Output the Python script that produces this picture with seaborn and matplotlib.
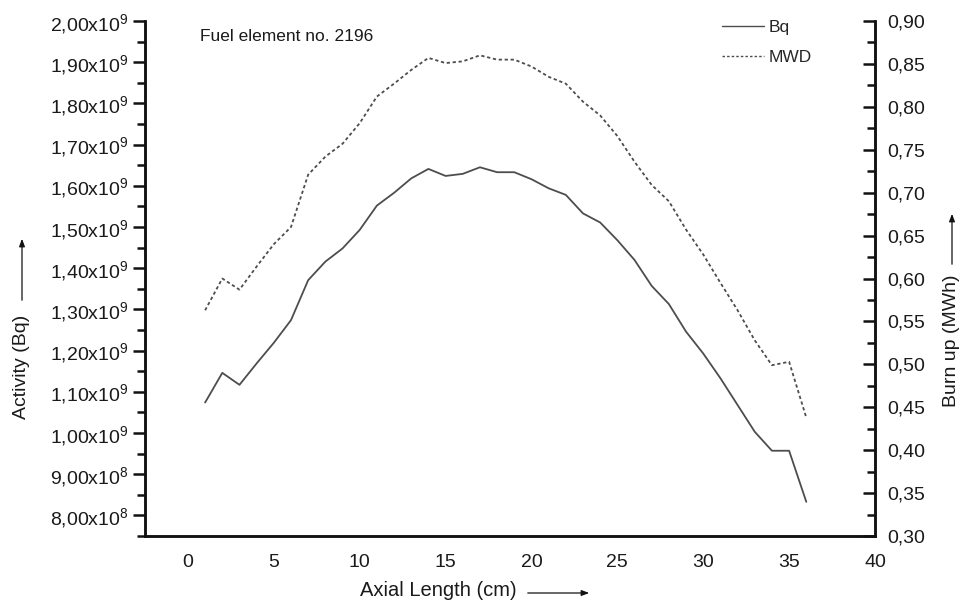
import numpy as np
import pandas as pd
import matplotlib
matplotlib.use("Agg")
import matplotlib.pyplot as plt
from matplotlib.ticker import MultipleLocator, FuncFormatter
from matplotlib.lines import Line2D
import seaborn as sns

# Axial profile of fuel element no. 2196
axial_cm = list(range(1, 37))
activity_bq = [1.074, 1.146, 1.117, 1.169, 1.219, 1.274, 1.371, 1.416, 1.448, 1.493,
               1.552, 1.583, 1.618, 1.641, 1.624, 1.629, 1.645, 1.633, 1.633, 1.616,
               1.594, 1.578, 1.533, 1.511, 1.468, 1.420, 1.357, 1.313, 1.246, 1.193,
               1.133, 1.068, 1.003, 0.957, 0.957, 0.833]          # x 1e9 Bq
burnup_mwh = [0.563, 0.600, 0.587, 0.614, 0.640, 0.660, 0.721, 0.742, 0.757, 0.781,
              0.812, 0.827, 0.843, 0.857, 0.851, 0.853, 0.860, 0.855, 0.855, 0.847,
              0.835, 0.827, 0.806, 0.790, 0.766, 0.736, 0.709, 0.690, 0.657, 0.628,
              0.595, 0.563, 0.528, 0.499, 0.503, 0.438]

series_names = ["Bq", "MWD"]
title_text = "Fuel element no. 2196"

df = pd.DataFrame({"x": axial_cm,
                   "bq": np.array(activity_bq) * 1e9,
                   "mwd": burnup_mwh})

sns.set_style("white")
plt.rcParams["font.family"] = ["Liberation Sans", "DejaVu Sans"]
plt.rcParams["mathtext.fontset"] = "custom"
plt.rcParams["mathtext.rm"] = "Liberation Sans"
plt.rcParams["mathtext.it"] = "Liberation Sans"

TXT = "#1a1a1a"
LINE = "#4d4d4d"
DOTS = (0, (1.8, 1.5))

fig = plt.figure(figsize=(9.59, 6.02), dpi=100)
ax = fig.add_axes([0.1512, 0.1096, 0.7612, 0.8555])
ax2 = ax.twinx()

sns.lineplot(data=df, x="x", y="bq", ax=ax, color=LINE, lw=1.3, linestyle="-")
sns.lineplot(data=df, x="x", y="mwd", ax=ax2, color=LINE, lw=1.3, linestyle=DOTS)

ax.set_xlim(-2.5, 40)
ax.set_ylim(7.5e8, 2.0e9)
ax2.set_ylim(0.30, 0.90)

def sci_comma(v, pos):
    if v <= 0:
        return ""
    e = int(np.floor(np.log10(v) + 1e-9))
    m = v / 10 ** e
    return ("%.2f" % m).replace(".", ",") + "x10$^{%d}$" % e

ax.yaxis.set_major_locator(MultipleLocator(1e8))
ax.yaxis.set_minor_locator(MultipleLocator(5e7))
ax.yaxis.set_major_formatter(FuncFormatter(sci_comma))
ax.xaxis.set_major_locator(MultipleLocator(5))
ax.xaxis.set_minor_locator(MultipleLocator(2.5))
ax2.yaxis.set_major_locator(MultipleLocator(0.05))
ax2.yaxis.set_minor_locator(MultipleLocator(0.025))
ax2.yaxis.set_major_formatter(FuncFormatter(lambda v, p: ("%.2f" % v).replace(".", ",")))

# labelled activity ticks start at 8,00x10^8
ax.set_yticks(np.arange(8e8, 2.0e9 + 1, 1e8))

for a in (ax, ax2):
    for s in a.spines.values():
        s.set_linewidth(1.8)
        s.set_color("#111111")
    a.spines["top"].set_visible(False)
    a.set_xlabel("")
    a.set_ylabel("")

ax.tick_params(axis="y", which="major", direction="out", length=8.5, width=1.8,
               labelsize=14, pad=3, colors="#111111", labelcolor=TXT, left=True, right=False)
ax.tick_params(axis="y", which="minor", direction="out", length=5.5, width=1.8,
               colors="#111111", left=True, right=False)
ax.tick_params(axis="x", which="major", direction="out", length=8, width=1.8,
               labelsize=14, pad=5, colors="#111111", labelcolor=TXT)
ax.tick_params(axis="x", which="minor", direction="out", length=5, width=1.8,
               colors="#111111")
ax2.tick_params(axis="y", which="major", direction="in", length=8.5, width=1.8,
                labelsize=14, pad=8.5, colors="#111111", labelcolor=TXT, right=True, left=False)
ax2.tick_params(axis="y", which="minor", direction="in", length=5.5, width=1.8,
                colors="#111111", right=True, left=False)

ax.text(0.075, 0.969, title_text, transform=ax.transAxes, fontsize=12.5,
        color=TXT, ha="left", va="center")

handles = [Line2D([], [], color=LINE, lw=1.0, linestyle="-"),
           Line2D([], [], color=LINE, lw=1.0, linestyle=DOTS)]
ax2.legend(handles, series_names, loc="upper left", bbox_to_anchor=(0.7905, 1.002),
           frameon=False, fontsize=12.5, handlelength=2.4, handletextpad=0.3,
           labelspacing=0.85, borderpad=0, borderaxespad=0)

# axis titles with direction arrows
W, H = 959.0, 602.0
fig.text(22 / W, 1 - 367 / H, "Activity (Bq)", rotation=90, fontsize=14,
         color=TXT, ha="center", va="center")
fig.text(952 / W, 1 - 341 / H, "Burn up (MWh)", rotation=90, fontsize=14,
         color=TXT, ha="center", va="center")
fig.text(438 / W, 1 - 591 / H, "Axial Length (cm)", fontsize=14.5,
         color=TXT, ha="center", va="center")

arrow = dict(arrowstyle="-|>,head_length=0.45,head_width=0.17", color="#111111", lw=0.9)
ax.annotate("", xy=(22 / W, 1 - 236 / H), xytext=(22 / W, 1 - 303 / H),
            xycoords="figure fraction", textcoords="figure fraction", arrowprops=arrow)
ax.annotate("", xy=(952 / W, 1 - 211 / H), xytext=(952 / W, 1 - 267 / H),
            xycoords="figure fraction", textcoords="figure fraction", arrowprops=arrow)
ax.annotate("", xy=(592 / W, 1 - 593 / H), xytext=(525 / W, 1 - 593 / H),
            xycoords="figure fraction", textcoords="figure fraction", arrowprops=arrow)

fig.savefig("out.png", dpi=100)
